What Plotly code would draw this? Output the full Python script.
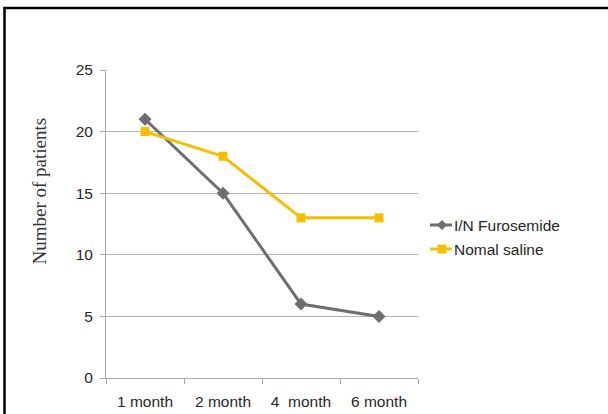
import plotly.graph_objects as go

# Follow-up time points
months = ["1 month", "2 month", "4\u00a0 month", "6 month"]

# Number of patients per group at each follow-up
furosemide = [21, 15, 6, 5]
saline = [20, 18, 13, 13]

series_names = ["I/N Furosemide", "Nomal saline"]
gray, gold = "#6e6e6e", "#f2c000"

W, H = 608, 414
L, R, T, B = 106, 190, 70, 36
pw, ph = W - L - R, H - T - B

def px_x(x):
    return (x - L) / pw

def px_y(y):
    return (H - B - y) / ph

sans = "Liberation Sans, Arial, sans-serif"
fs = 15.5
txt_col = "#262626"

fig = go.Figure()
fig.add_trace(go.Scatter(
    x=months, y=furosemide, name=series_names[0], mode="lines+markers",
    line=dict(color=gray, width=3),
    marker=dict(symbol="diamond", size=10, color=gray),
))
fig.add_trace(go.Scatter(
    x=months, y=saline, name=series_names[1], mode="lines+markers",
    line=dict(color=gold, width=3),
    marker=dict(symbol="square", size=9, color=gold),
))

axis_col = "#a8a8a8"
fig.update_layout(
    width=W, height=H,
    margin=dict(l=L, r=R, t=T, b=B, autoexpand=False),
    paper_bgcolor="white", plot_bgcolor="white",
    font=dict(family=sans, size=fs, color=txt_col),
    showlegend=False,
    xaxis=dict(
        type="category", range=[-0.5, 3.5], tickson="boundaries",
        showline=True, linecolor=axis_col, linewidth=1,
        ticks="outside", ticklen=5, tickcolor=axis_col,
        showgrid=False, tickfont=dict(family=sans, size=fs, color=txt_col),
        tickangle=0, automargin=False, ticklabelstandoff=9,
    ),
    yaxis=dict(
        range=[0, 25], dtick=5, tick0=0,
        showline=True, linecolor=axis_col, linewidth=1,
        ticks="outside", ticklen=5, tickcolor=axis_col,
        showgrid=True, gridcolor="#b4b4b4", gridwidth=1,
        zeroline=False, tickfont=dict(family=sans, size=fs, color=txt_col),
        automargin=False, ticklabelstandoff=4,
    ),
)

fig.add_annotation(
    text="Number of patients", xref="paper", yref="paper",
    x=px_x(26), y=px_y(191), textangle=-90, showarrow=False,
    font=dict(family="Liberation Serif, Times New Roman, serif", size=19, color="#333333"),
)

# Legend drawn at the right of the plot: short line, marker, label
legend_rows = [(series_names[0], gray, "diamond", 225), (series_names[1], gold, "square", 249)]
for name, col, sym, yc in legend_rows:
    fig.add_shape(type="line", xref="paper", yref="paper",
                  x0=px_x(430), x1=px_x(452), y0=px_y(yc), y1=px_y(yc),
                  line=dict(color=col, width=3))
    cx = 442
    if sym == "diamond":
        r = 5
        path = (f"M {px_x(cx - r)} {px_y(yc)} L {px_x(cx)} {px_y(yc - r)} "
                f"L {px_x(cx + r)} {px_y(yc)} L {px_x(cx)} {px_y(yc + r)} Z")
        fig.add_shape(type="path", xref="paper", yref="paper", path=path,
                      fillcolor=col, line=dict(color=col, width=0))
    else:
        r = 4.5
        fig.add_shape(type="rect", xref="paper", yref="paper",
                      x0=px_x(cx - r), x1=px_x(cx + r), y0=px_y(yc + r), y1=px_y(yc - r),
                      fillcolor=col, line=dict(color=col, width=0))
    fig.add_annotation(text=name, xref="paper", yref="paper",
                       x=px_x(452), y=px_y(yc), xanchor="left", yanchor="middle",
                       showarrow=False, font=dict(family=sans, size=fs, color=txt_col))

# Frame lines on the left and top edges
fig.add_shape(type="line", xref="paper", yref="paper",
              x0=px_x(4.5), x1=px_x(4.5), y0=px_y(H + 5), y1=px_y(7),
              line=dict(color="black", width=2.5))
fig.add_shape(type="line", xref="paper", yref="paper",
              x0=px_x(3.5), x1=px_x(W + 5), y0=px_y(8), y1=px_y(8),
              line=dict(color="black", width=2.5))

fig.write_html("out.html")
